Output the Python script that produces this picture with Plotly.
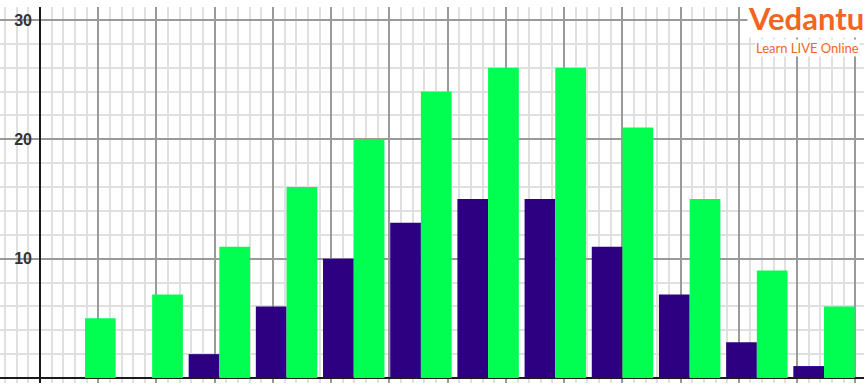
import plotly.graph_objects as go

categories = [f"G{i}" for i in range(1, 13)]
series_purple = [0, 0, 2, 6, 10, 13, 15, 15, 11, 7, 3, 1]
series_green = [5, 7, 11, 16, 20, 24, 26, 26, 21, 15, 9, 6]
ytick_vals = [0, 10, 20, 30]
ytick_text = ["", "10", "20", "30"]

PURPLE = "#2D0082"
GREEN = "#00FF50"

fig = go.Figure()
# empty trace to anchor the grid subplot
fig.add_trace(go.Scatter(x=[], y=[], xaxis="x", yaxis="y", showlegend=False))
fig.add_trace(go.Bar(x=categories, y=series_purple, marker_color=PURPLE,
                     marker_line_width=0, xaxis="x2", yaxis="y", showlegend=False))
fig.add_trace(go.Bar(x=categories, y=series_green, marker_color=GREEN,
                     marker_line_width=0, xaxis="x2", yaxis="y", showlegend=False))

W, H = 867, 386
fig.update_layout(
    width=W, height=H,
    margin=dict(l=0, r=3, t=7, b=3),
    paper_bgcolor="white", plot_bgcolor="white",
    barmode="group", bargap=0.086, bargroupgap=0,
    xaxis=dict(
        range=[-3.435, 70.75], dtick=5, tick0=0,
        showgrid=True, gridcolor="#9a9a9a", gridwidth=2,
        minor=dict(dtick=1, showgrid=True, gridcolor="#e0e0e0", gridwidth=2),
        zeroline=True, zerolinecolor="#1a1a1a", zerolinewidth=2,
        showticklabels=False, ticks="", showline=False,
    ),
    xaxis2=dict(
        overlaying="x", type="category", range=[-1.265, 11.595],
        visible=False, showgrid=False, zeroline=False,
    ),
    yaxis=dict(
        range=[-0.42, 31.09], anchor="free", position=40 / 864,
        tickvals=ytick_vals, ticktext=ytick_text,
        showgrid=True, gridcolor="#9a9a9a", gridwidth=2,
        minor=dict(dtick=2, tick0=0, showgrid=True, gridcolor="#e0e0e0", gridwidth=2),
        zeroline=True, zerolinecolor="#1a1a1a", zerolinewidth=2,
        showline=False, ticks="", ticklen=0,
        tickfont=dict(family="Liberation Sans", size=16, color="#333333", weight="bold"),
        ticklabelstandoff=8,
    ),
    annotations=[
        dict(x=1, y=1, xref="paper", yref="paper", xanchor="right", yanchor="top",
             yshift=9, xshift=1, text="Vedantu", showarrow=False,
             font=dict(family="Lato", size=31, color="#F26522", weight="bold"),
             bgcolor="white", borderpad=0),
        dict(x=1, y=1, xref="paper", yref="paper", xanchor="right", yanchor="top",
             yshift=-32, xshift=-4, text="Learn LIVE Online", showarrow=False,
             font=dict(family="Lato", size=13, color="#F26522"), bgcolor="white",
             borderpad=0),
    ],
)

fig.write_html("out.html")
